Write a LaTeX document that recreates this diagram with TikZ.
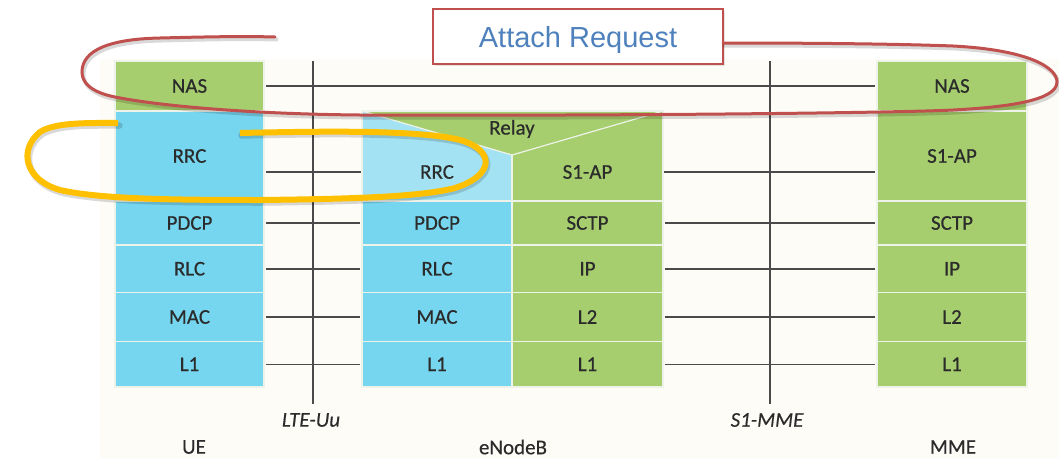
\documentclass[tikz,border=0pt]{standalone}
\usepackage{fontspec}
\setmainfont{Carlito}[FakeBold=0.35]
\newfontfamily\arialfont{Liberation Sans}
\usetikzlibrary{shadows}

\definecolor{ueblue}{HTML}{76D5EF}
\definecolor{rrclight}{HTML}{A3E2F3}
\definecolor{lgreen}{HTML}{A6CE6E}
\definecolor{sepcol}{HTML}{EEF3EA}
\definecolor{cream}{HTML}{FDFCF7}
\definecolor{txtcol}{HTML}{2B2B2B}
\definecolor{linegray}{HTML}{4A4A4A}
\definecolor{redc}{HTML}{C0504D}
\definecolor{orangec}{HTML}{FFC000}
\definecolor{bluetxt}{HTML}{4F81BD}

\tikzset{
  layerfont/.style={font=\fontsize{21}{25}\selectfont, text=txtcol},
  layer/.style={rectangle, draw=sepcol, line width=1.2pt, inner sep=0pt, layerfont},
  bluecell/.style={layer, fill=ueblue},
  greencell/.style={layer, fill=lgreen},
  overlaytext/.style={rectangle, inner sep=0pt, layerfont},
  conn/.style={draw=linegray, line width=1.5pt, shorten <=1pt, shorten >=1pt},
  vline/.style={draw=linegray, line width=1.8pt},
  iface/.style={font=\fontsize{21}{25}\selectfont\itshape, text=txtcol},
  entity/.style={font=\fontsize{21}{25}\selectfont, text=txtcol},
  callout/.style={rectangle, draw=redc, line width=1.8pt, fill=white,
    drop shadow={opacity=0.2, shadow xshift=1.5pt, shadow yshift=-1.5pt},
    font=\arialfont\fontsize{29}{34}\selectfont, text=bluetxt,
    text height=21pt, text depth=0pt,
    minimum width=290pt, minimum height=55pt, inner sep=0pt},
  redloop/.style={draw=redc, line width=3pt, line cap=round},
  orangeloop/.style={draw=orangec, line width=6pt, line cap=butt},
  loopshadow/.style={draw=black, opacity=0.15, line cap=round},
}

% hand-drawn highlight outlines
\newcommand\nasoutline{(723,43) .. controls (820,43) and (900,44) .. (953,46)
  .. controls (1030,50) and (1057,68) .. (1057,82)
  .. controls (1057,100) and (1010,107) .. (953,110)
  .. controls (896,113) and (600,116) .. (360,115)
  .. controls (250,114) and (160,106) .. (115,97)
  .. controls (90,92) and (82,82) .. (82,72)
  .. controls (82,50) and (110,39) .. (160,38)
  .. controls (200,37) and (240,36) .. (275,37)}
\newcommand\rrcoutline{(240,133) .. controls (330,131) and (420,130) .. (460,140)
  .. controls (495,150) and (495,175) .. (455,188)
  .. controls (420,197) and (350,199) .. (260,200)
  .. controls (170,200) and (100,199) .. (60,190)
  .. controls (25,180) and (18,150) .. (40,132)
  .. controls (55,122) and (90,123) .. (118,123)}

\begin{document}
\begin{tikzpicture}[x=1pt, y=-1pt]
  \useasboundingbox (0,0) rectangle (1059,458);
  \fill[white] (0,0) rectangle (1059,458);
  \fill[cream] (100,59) rectangle (1059,458);

  % UE protocol stack
  \node[greencell, minimum width=149pt, minimum height=50pt] (ue-nas)  at (189.5,86)    {NAS};
  \node[bluecell,  minimum width=149pt, minimum height=90pt] (ue-rrc)  at (189.5,156)   {RRC};
  \node[bluecell,  minimum width=149pt, minimum height=44pt] (ue-pdcp) at (189.5,223)   {PDCP};
  \node[bluecell,  minimum width=149pt, minimum height=47.5pt] (ue-rlc) at (189.5,268.75) {RLC};
  \node[bluecell,  minimum width=149pt, minimum height=49pt] (ue-mac)  at (189.5,317)   {MAC};
  \node[bluecell,  minimum width=149pt, minimum height=45.5pt] (ue-l1) at (189.5,364.25) {L1};

  % eNodeB: relay block on top
  \fill[lgreen] (362,111) rectangle (663,201);
  \fill[rrclight] (362,111) -- (512,155) -- (512,201) -- (362,201) -- cycle;
  \draw[sepcol, line width=1.2pt] (362,111) rectangle (663,201);
  \draw[sepcol, line width=1.2pt] (362,111) -- (512,155) -- (663,111);
  \draw[sepcol, line width=1.2pt] (512,155) -- (512,201);
  \node[overlaytext] (relay) at (512,129) {Relay};
  \node[overlaytext, minimum width=150pt, minimum height=50pt] (enb-rrc)  at (437,172)   {RRC};
  \node[overlaytext, minimum width=151pt, minimum height=50pt] (enb-s1ap) at (587.5,172) {S1-AP};

  % eNodeB: radio side
  \node[bluecell, minimum width=150pt, minimum height=44pt]   (enb-pdcp) at (437,223)    {PDCP};
  \node[bluecell, minimum width=150pt, minimum height=47.5pt] (enb-rlc)  at (437,268.75) {RLC};
  \node[bluecell, minimum width=150pt, minimum height=49pt]   (enb-mac)  at (437,317)    {MAC};
  \node[bluecell, minimum width=150pt, minimum height=45.5pt] (enb-l1a)  at (437,364.25) {L1};
  % eNodeB: S1 side
  \node[greencell, minimum width=151pt, minimum height=44pt]   (enb-sctp) at (587.5,223)    {SCTP};
  \node[greencell, minimum width=151pt, minimum height=47.5pt] (enb-ip)   at (587.5,268.75) {IP};
  \node[greencell, minimum width=151pt, minimum height=49pt]   (enb-l2)   at (587.5,317)    {L2};
  \node[greencell, minimum width=151pt, minimum height=45.5pt] (enb-l1b)  at (587.5,364.25) {L1};

  % MME protocol stack
  \node[greencell, minimum width=150pt, minimum height=50pt]   (mme-nas)  at (952,86)     {NAS};
  \node[greencell, minimum width=150pt, minimum height=90pt]   (mme-s1ap) at (952,156)    {S1-AP};
  \node[greencell, minimum width=150pt, minimum height=44pt]   (mme-sctp) at (952,223)    {SCTP};
  \node[greencell, minimum width=150pt, minimum height=47.5pt] (mme-ip)   at (952,268.75) {IP};
  \node[greencell, minimum width=150pt, minimum height=49pt]   (mme-l2)   at (952,317)    {L2};
  \node[greencell, minimum width=150pt, minimum height=45.5pt] (mme-l1)   at (952,364.25) {L1};

  % peer-to-peer links
  \draw[conn] (ue-nas.east) -- (mme-nas.west);
  \draw[conn] (ue-rrc.east |- enb-rrc.west) -- (enb-rrc.west);
  \draw[conn] (ue-pdcp.east) -- (enb-pdcp.west);
  \draw[conn] (ue-rlc.east) -- (enb-rlc.west);
  \draw[conn] (ue-mac.east) -- (enb-mac.west);
  \draw[conn] (ue-l1.east) -- (enb-l1a.west);
  \draw[conn] (enb-s1ap.east) -- (mme-s1ap.west |- enb-s1ap.east);
  \draw[conn] (enb-sctp.east) -- (mme-sctp.west);
  \draw[conn] (enb-ip.east) -- (mme-ip.west);
  \draw[conn] (enb-l2.east) -- (mme-l2.west);
  \draw[conn] (enb-l1b.east) -- (mme-l1.west);

  % interfaces
  \node[iface] (lteuu) at (311,420) {LTE-Uu};
  \node[iface] (s1mme) at (767,420) {S1-MME};
  \coordinate (uu-top) at (313,61);
  \coordinate (s1-top) at (770,61);
  \draw[vline] (uu-top) -- (uu-top |- 0,404);
  \draw[vline] (s1-top) -- (s1-top |- 0,404);

  % network elements
  \node[entity] (ue-label)  at (194,447) {UE};
  \node[entity] (enb-label) at (513,447) {eNodeB};
  \node[entity] (mme-label) at (953,447) {MME};

  % annotation
  \node[callout] (attach) at (578,36.5) {Attach Request};
  \draw[loopshadow, line width=4pt, shift={(1.5,2.5)}] \nasoutline;
  \draw[redloop] \nasoutline;
  \draw[loopshadow, line width=6.5pt, shift={(1.5,2.5)}] \rrcoutline;
  \draw[orangeloop] \rrcoutline;
\end{tikzpicture}
\end{document}
